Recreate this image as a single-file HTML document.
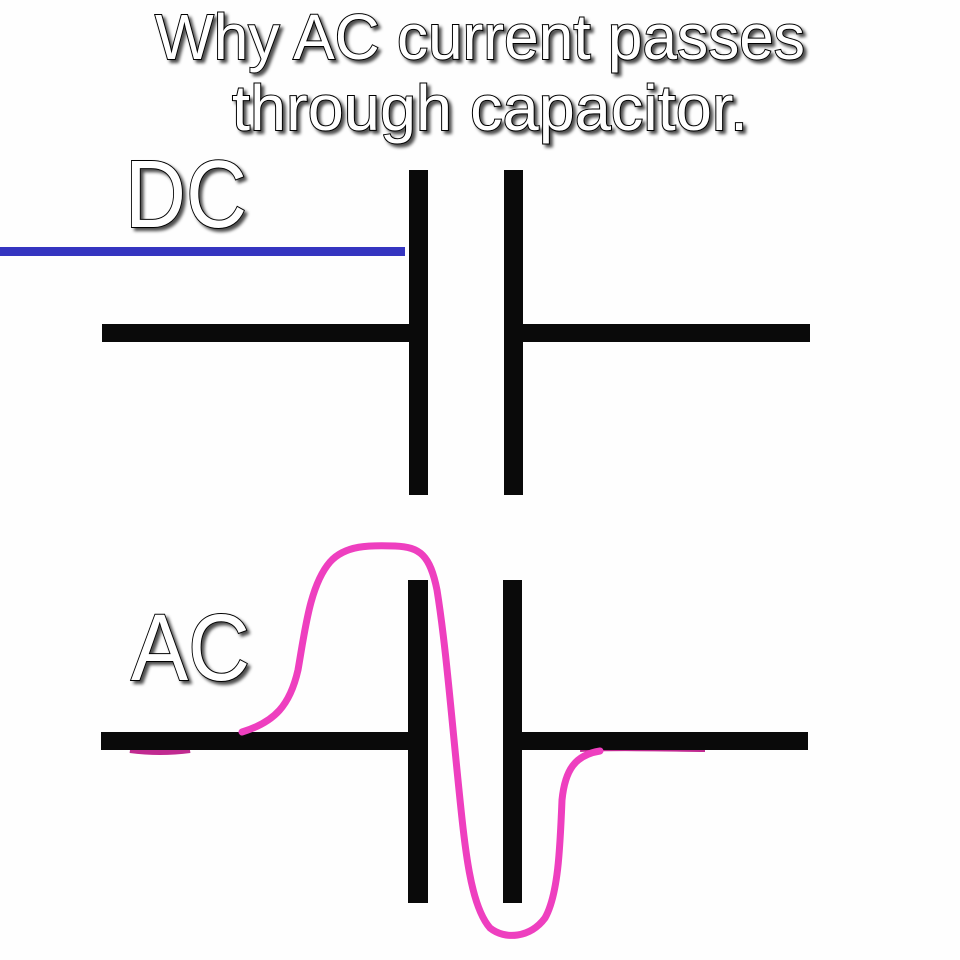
<!DOCTYPE html>
<html><head><meta charset="utf-8"><style>
html,body{margin:0;padding:0;background:#fff;}
svg{display:block;}
text{font-family:"Liberation Sans",sans-serif;fill:#fff;stroke:#000;stroke-width:2;paint-order:stroke;}
</style></head><body>
<svg width="960" height="960" viewBox="0 0 960 960" xmlns="http://www.w3.org/2000/svg">
<defs><filter id="sh" x="-10%" y="-10%" width="130%" height="130%"><feDropShadow dx="3" dy="3" stdDeviation="1.5" flood-color="#000" flood-opacity="0.7"/></filter></defs>
<rect width="960" height="960" fill="#fefefe"/>
<g filter="url(#sh)">
<text x="155" y="59" font-size="64" textLength="650" lengthAdjust="spacingAndGlyphs">Why AC current passes</text>
<text x="232" y="130" font-size="64" textLength="516" lengthAdjust="spacingAndGlyphs">through capacitor.</text>
<text x="125" y="227" font-size="96" textLength="122" lengthAdjust="spacingAndGlyphs">DC</text>
<text x="131" y="680" font-size="95" textLength="119" lengthAdjust="spacingAndGlyphs">AC</text>
</g>
<!-- DC capacitor -->
<rect x="0" y="247" width="405" height="9" fill="#3535c0"/>
<rect x="409" y="170" width="19" height="325" fill="#0a0a0a"/>
<rect x="504" y="170" width="19" height="325" fill="#0a0a0a"/>
<rect x="102" y="324" width="308" height="18" fill="#0a0a0a"/>
<rect x="522" y="324" width="288" height="18" fill="#0a0a0a"/>
<!-- AC capacitor -->
<path d="M130 750 Q160 754 190 750" stroke="#c02a90" stroke-width="6" fill="none"/>
<path d="M580 749 C620 747 680 749 705 749" stroke="#c02a90" stroke-width="6" fill="none"/>
<rect x="408" y="580" width="20" height="323" fill="#0a0a0a"/>
<rect x="503" y="580" width="19" height="323" fill="#0a0a0a"/>
<rect x="101" y="732" width="308" height="18" fill="#0a0a0a"/>
<rect x="522" y="732" width="286" height="18" fill="#0a0a0a"/>
<path d="M242 732 C275 722 290 705 298 670 C305 630 310 585 330 562 C345 545 370 545 395 546 C420 547 430 555 437 590 C445 640 450 700 457 770 C465 850 470 905 490 928 C505 940 530 938 545 918 C558 895 560 850 562 800 C565 770 575 755 600 751" stroke="#ee3fbf" stroke-width="7" fill="none" stroke-linecap="round"/>
</svg>
</body></html>
